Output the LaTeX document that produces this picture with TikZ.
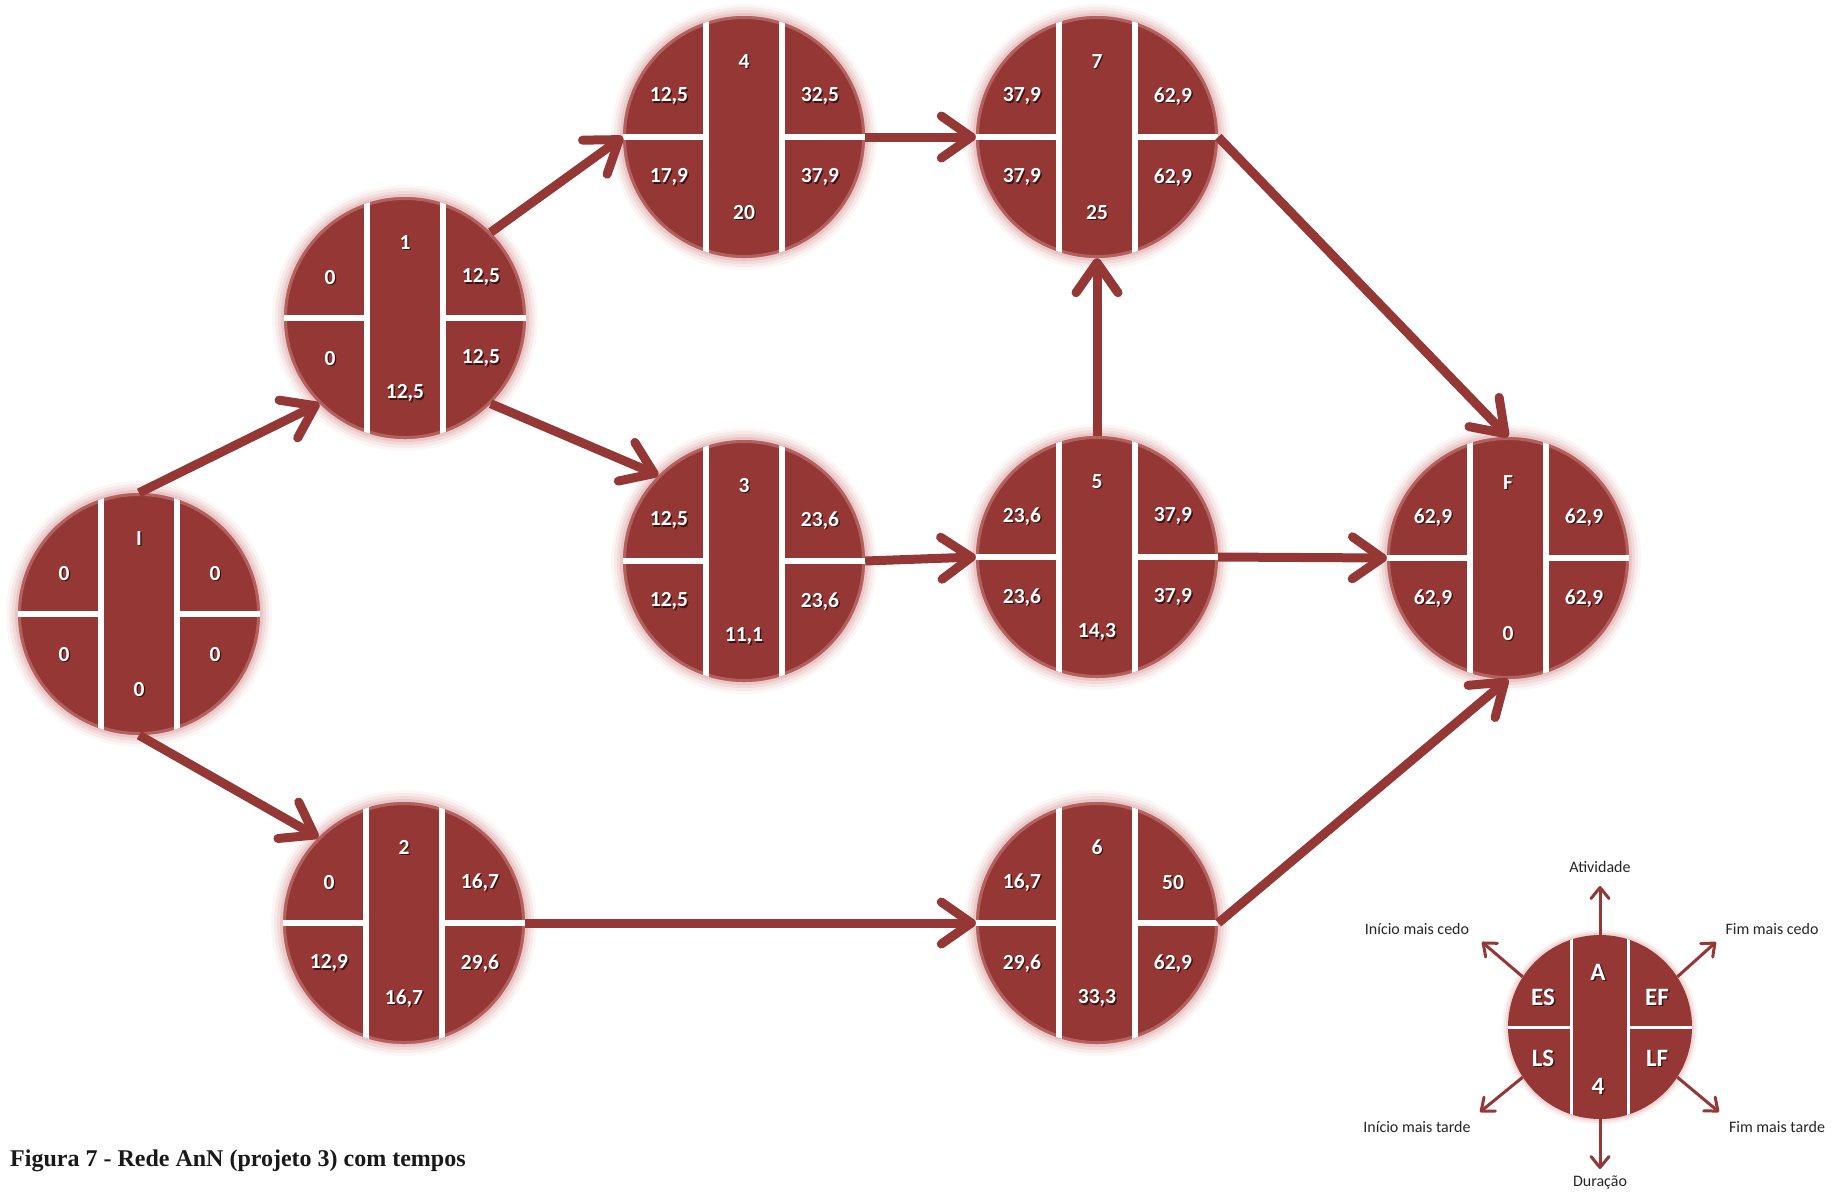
\documentclass[tikz,border=0pt]{standalone}
\usepackage{fontspec}
\newfontfamily\carlito{Carlito}
\newfontfamily\capfont{Liberation Serif}
\usetikzlibrary{arrows.meta}
\definecolor{nodered}{HTML}{953735}
\definecolor{glow}{HTML}{D99694}
\definecolor{shd}{HTML}{3B1312}
% white figure with a dark drop shadow
\newcommand\shtxt[1]{\rlap{\kern1.4pt\raisebox{-1.4pt}{\color{shd}#1}}#1}

\tikzset{
  actcircle/.style={circle, fill=nodered, minimum size=242pt, inner sep=0pt},
  legcircle/.style={circle, fill=nodered, minimum size=184pt, inner sep=0pt},
  numtxt/.style={text=white, font=\carlito\bfseries\fontsize{21.5}{21.5}\selectfont, inner sep=0pt},
  legtxt/.style={text=white, font=\carlito\bfseries\fontsize{25}{25}\selectfont, inner sep=0pt},
  labtxt/.style={text=black!85, font=\carlito\fontsize{16}{16}\selectfont, inner sep=0pt},
  flow/.style={draw=nodered, line width=9pt, -{Straight Barb[length=30pt,width=42pt,round]}},
  legarrow/.style={draw=nodered, line width=3pt, -{Straight Barb[length=11pt,width=18pt,round]}},
}

% activity circle: name, x, y, activity, ES, EF, LS, LF, duration
\newcommand\actnode[9]{%
  \foreach \gr/\op in {12/0.07,9/0.12,6/0.18,3/0.28}{%
    \fill[glow, opacity=\op] (#2,#3) circle[radius={(121+\gr)*1pt}];}
  \node[actcircle] (#1) at (#2,#3) {};
  \draw[glow, opacity=0.45, line width=3pt] (#2,#3) circle[radius=119.5pt];
  \begin{scope}[shift={(#2,#3)}]
    \begin{scope}
      \clip (0,0) circle[radius=121pt];
      \fill[white] (-41.25,-125) rectangle (-34.75,125);
      \fill[white] (34.75,-125) rectangle (41.25,125);
      \fill[white] (-125,-3.25) rectangle (-38,3.25);
      \fill[white] (38,-3.25) rectangle (125,3.25);
    \end{scope}
    \node[numtxt] (#1-a)  at (0,-75)   {\shtxt{#4}};
    \node[numtxt] (#1-es) at (-75,-40) {\shtxt{#5}};
    \node[numtxt] (#1-ef) at (76,-40)  {\shtxt{#6}};
    \node[numtxt] (#1-ls) at (-75,41)  {\shtxt{#7}};
    \node[numtxt] (#1-lf) at (76,41)   {\shtxt{#8}};
    \node[numtxt] (#1-d)  at (0,76)    {\shtxt{#9}};
  \end{scope}
}

\begin{document}
\begin{tikzpicture}[x=1pt, y=-1pt]
\fill[white] (0,0) rectangle (1843,1192);
\useasboundingbox (0,0) rectangle (1843,1192);

% network
\actnode{nI}{139}{614}{I}{0}{0}{0}{0}{0}
\actnode{n1}{405}{318}{1}{0}{12,5}{0}{12,5}{12,5}
\actnode{n2}{404}{923}{2}{0}{16,7}{12,9}{29,6}{16,7}
\actnode{n3}{744}{561}{3}{12,5}{23,6}{12,5}{23,6}{11,1}
\actnode{n4}{744}{137}{4}{12,5}{32,5}{17,9}{37,9}{20}
\actnode{n5}{1097}{557}{5}{23,6}{37,9}{23,6}{37,9}{14,3}
\actnode{n6}{1097}{923}{6}{16,7}{50}{29,6}{62,9}{33,3}
\actnode{n7}{1097}{137}{7}{37,9}{62,9}{37,9}{62,9}{25}
\actnode{nF}{1508}{558}{F}{62,9}{62,9}{62,9}{62,9}{0}

\draw[flow] (nI.north) -- (n1.225);
\draw[flow] (nI.south) -- (n2.135);
\draw[flow] (n1.45) -- (n4.west);
\draw[flow] (n1.-45) -- (n3.135);
\draw[flow] (n4.east) -- (n7.west);
\draw[flow] (n3.east) -- (n5.west);
\draw[flow] (n5.north) -- (n7.south);
\draw[flow] (n7.east) -- (nF.north);
\draw[flow] (n5.east) -- (nF.west);
\draw[flow] (n2.east) -- (n6.west);
\draw[flow] (n6.east) -- (nF.south);

% legend
\foreach \gr/\op in {6/0.08,4/0.14,2/0.24}{%
  \fill[glow, opacity=\op] (1600,1027) circle[radius={(92+\gr)*1pt}];}
\node[legcircle] (leg) at (1600,1027) {};
\begin{scope}[shift={(1600,1027)}]
  \begin{scope}
    \clip (0,0) circle[radius=92pt];
    \fill[white] (-30.25,-95) rectangle (-26.75,95);
    \fill[white] (26.75,-95) rectangle (30.25,95);
    \fill[white] (-95,-1.5) rectangle (-28.5,1.75);
    \fill[white] (28.5,-1.5) rectangle (95,1.75);
  \end{scope}
  \node[legtxt] (leg-a)  at (-2,-54) {\shtxt{A}};
  \node[legtxt] (leg-es) at (-57,-29) {\shtxt{ES}};
  \node[legtxt] (leg-ef) at (57,-29) {\shtxt{EF}};
  \node[legtxt] (leg-ls) at (-57,32) {\shtxt{LS}};
  \node[legtxt] (leg-lf) at (57,32) {\shtxt{LF}};
  \node[legtxt] (leg-d)  at (-2,60) {\shtxt{4}};
\end{scope}

\coordinate (pa) at (1600,886);
\coordinate (pes) at (1482,942);
\coordinate (pef) at (1716,942);
\coordinate (pls) at (1480,1112);
\coordinate (plf) at (1719,1112);
\coordinate (pd) at (1600,1169);
\draw[legarrow] (leg.north) -- (pa);
\draw[legarrow] (leg.147) -- (pes);
\draw[legarrow] (leg.33) -- (pef);
\draw[legarrow] (leg.213) -- (pls);
\draw[legarrow] (leg.327) -- (plf);
\draw[legarrow] (leg.south) -- (pd);

\node[labtxt] (la)  at (1600,867)  {Atividade};
\node[labtxt] (les) at (1417,929)  {Início mais cedo};
\node[labtxt] (lef) at (1772,929)  {Fim mais cedo};
\node[labtxt] (lls) at (1417,1127) {Início mais tarde};
\node[labtxt] (llf) at (1777,1127) {Fim mais tarde};
\node[labtxt] (ld)  at (1600,1182) {Duração};

% caption
\node[anchor=base west, inner sep=0pt, text=black!90,
      font=\capfont\bfseries\fontsize{24}{24}\selectfont] (cap) at (10,1166)
  {Figura 7 - Rede AnN (projeto 3) com tempos};
\end{tikzpicture}
\end{document}
